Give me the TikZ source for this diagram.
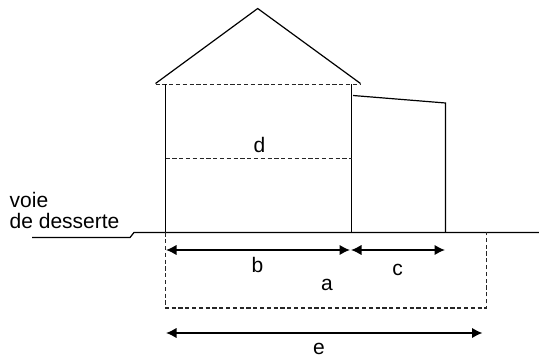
\documentclass[tikz,border=0pt]{standalone}
\usepackage{fontspec}
\setmainfont{Liberation Sans}
\usetikzlibrary{arrows.meta}
\tikzset{
  wall/.style={draw=black,line width=1.2pt,line join=miter},
  dash line/.style={draw=black!85,line width=1.05pt,dash pattern=on 4.2pt off 2.6pt},
  dim/.style={draw=black,line width=1.7pt,{Latex[length=10.5pt,width=10.5pt]}-{Latex[length=10.5pt,width=10.5pt]}},
  lab/.style={inner sep=0pt,font=\fontsize{21}{21}\selectfont,anchor=base},
  side/.style={inner sep=0pt,font=\fontsize{21}{21}\selectfont,anchor=base west}
}
\begin{document}
\begin{tikzpicture}[x=1pt,y=-1pt]
\useasboundingbox (0,0) rectangle (539,358);
\fill[white] (0,0) rectangle (539,358);
% key points
\coordinate (apex) at (257.7,8.5);
\coordinate (rl) at (155.5,83.5);
\coordinate (rr) at (360.5,83.5);
\coordinate (wlt) at (165.5,84.5);
\coordinate (wrt) at (351.5,84.5);
\coordinate (wlb) at (165.5,232.5);
\coordinate (wrb) at (351.5,232.5);
\coordinate (ml) at (165.5,158.5);
\coordinate (mr) at (351.5,158.5);
\coordinate (a1) at (353,95.5);
\coordinate (a2) at (445.5,103);
\coordinate (a3) at (445.5,232.5);
\coordinate (g0) at (32,237.5);
\coordinate (g1) at (130,237.5);
\coordinate (g2) at (134,232.5);
\coordinate (g3) at (539,232.5);
\coordinate (d1) at (165.5,308);
\coordinate (d2) at (486.5,308);
\coordinate (d3) at (486.5,232.5);
% house
\draw[wall] (rl) -- (apex) -- (rr);
\draw[dash line] (rl |- wlt) -- (rr |- wlt);
\draw[wall] (wlt) -- (wlb);
\draw[wall] (wrt) -- (wrb);
\draw[dash line] (ml) -- (mr);
\draw[wall] (a1) -- (a2) -- (a3);
% ground
\draw[wall] (g0) -- (g1) -- (g2) -- (g3);
% setback
\draw[dash line] (wlb) -- (d1) -- (d2) -- (d3);
% dimensions
\coordinate (bs) at (166,250);
\coordinate (be) at (350,250);
\coordinate (cs) at (351,250);
\coordinate (ce) at (445,250);
\coordinate (es) at (166,333);
\coordinate (ee) at (482.5,333);
\draw[dim] (bs) -- (be);
\draw[dim] (cs) -- (ce);
\draw[dim] (es) -- (ee);
% labels
\node[lab] (lb) at (257.5,273) {b};
\node[lab] (lc) at (397.5,275.5) {c};
\node[lab] (la) at (327,291) {a};
\node[lab] (le) at (319,355) {e};
\node[lab] (ld) at (259.5,152.5) {d};
\node[side] (voie) at (9.5,208) {voie};
\node[side] (desserte) at (9.5,229) {de desserte};
\end{tikzpicture}
\end{document}
